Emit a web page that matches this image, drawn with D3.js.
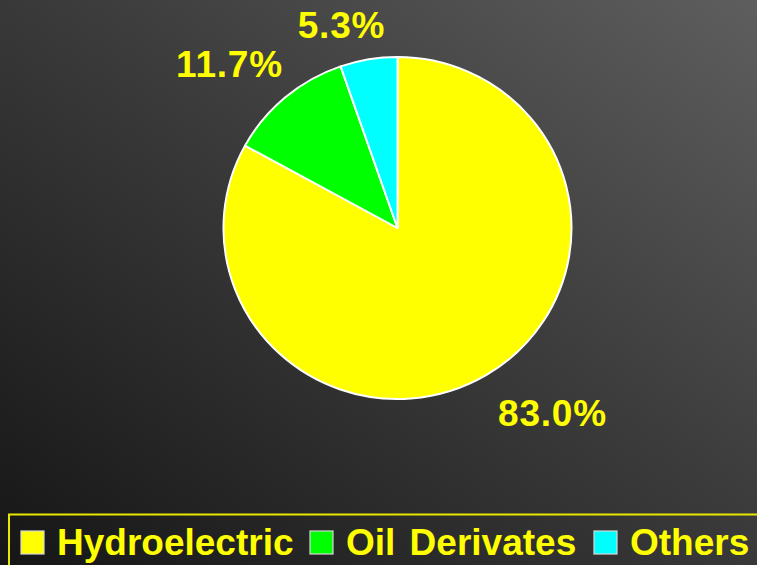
<!DOCTYPE html>
<html>
<head>
<meta charset="utf-8">
<script src="https://cdn.jsdelivr.net/npm/d3@7"></script>
<style>
  html, body { margin: 0; padding: 0; background: #222; }
  svg { display: block; }
</style>
</head>
<body>
<svg id="chart" width="757" height="565"></svg>
<script>
const categories = ["Hydroelectric", "Oil Derivates", "Others"];
const shares = [83.0, 11.7, 5.3];
const colors = ["#ffff00", "#00ff00", "#00ffff"];
const labelPos = [[552.5, 426], [229.5, 77], [341.5, 38]];

const width = 757, height = 565;
const svg = d3.select("#chart");

// background gradient, dark bottom-left to lighter top-right
let defs = svg.append("defs");
let grad = defs.append("linearGradient")
    .attr("id", "bg")
    .attr("x1", "0%").attr("y1", "100%")
    .attr("x2", "100%").attr("y2", "0%");
grad.append("stop").attr("offset", "0%").attr("stop-color", "#161616");
grad.append("stop").attr("offset", "55%").attr("stop-color", "#3c3c3c");
grad.append("stop").attr("offset", "100%").attr("stop-color", "#5e5e5e");

svg.append("rect")
    .attr("width", width)
    .attr("height", height)
    .attr("fill", "url(#bg)");

const cx = 397.5, cy = 228, r = 174;

let pie = d3.pie().sort(null).value(d => d);
let arc = d3.arc().innerRadius(0).outerRadius(r);
let arcs = pie(shares);

let g = svg.append("g")
    .attr("transform", `translate(${cx}, ${cy}) scale(1, ${171 / 174})`);

g.selectAll("path")
    .data(arcs)
    .enter().append("path")
    .attr("d", arc)
    .attr("fill", (d, i) => colors[i])
    .attr("stroke", "#ffffff")
    .attr("stroke-width", 2)
    .attr("stroke-linejoin", "round");

svg.selectAll("text.pct")
    .data(arcs)
    .enter().append("text")
    .attr("class", "pct")
    .attr("x", (d, i) => labelPos[i][0])
    .attr("y", (d, i) => labelPos[i][1])
    .attr("text-anchor", "middle")
    .style("font-family", "'Liberation Sans', Arial, sans-serif")
    .style("font-weight", "bold")
    .style("font-size", "37px")
    .style("letter-spacing", "0.8px")
    .style("fill", "#ffff00")
    .text(d => d3.format(".1f")(d.data) + "%");

// legend
svg.append("rect")
    .attr("x", 9)
    .attr("y", 514.5)
    .attr("width", 760)
    .attr("height", 60)
    .attr("fill", "none")
    .attr("stroke", "#e8e800")
    .attr("stroke-width", 2);

const legendX = [21, 310, 594];
let item = svg.selectAll("g.legend")
    .data(categories)
    .enter().append("g")
    .attr("class", "legend")
    .attr("transform", (d, i) => `translate(${legendX[i]}, 531)`);

item.append("rect")
    .attr("width", 23)
    .attr("height", 23)
    .attr("fill", (d, i) => colors[i])
    .attr("stroke", "#d8d8d8")
    .attr("stroke-width", 1.2);

item.append("text")
    .attr("x", 36)
    .attr("y", 23.5)
    .style("font-family", "'Liberation Sans', Arial, sans-serif")
    .style("font-weight", "bold")
    .style("font-size", "37px")
    .style("word-spacing", "4px")
    .style("fill", "#ffff00")
    .text(d => d);
</script>
</body>
</html>
